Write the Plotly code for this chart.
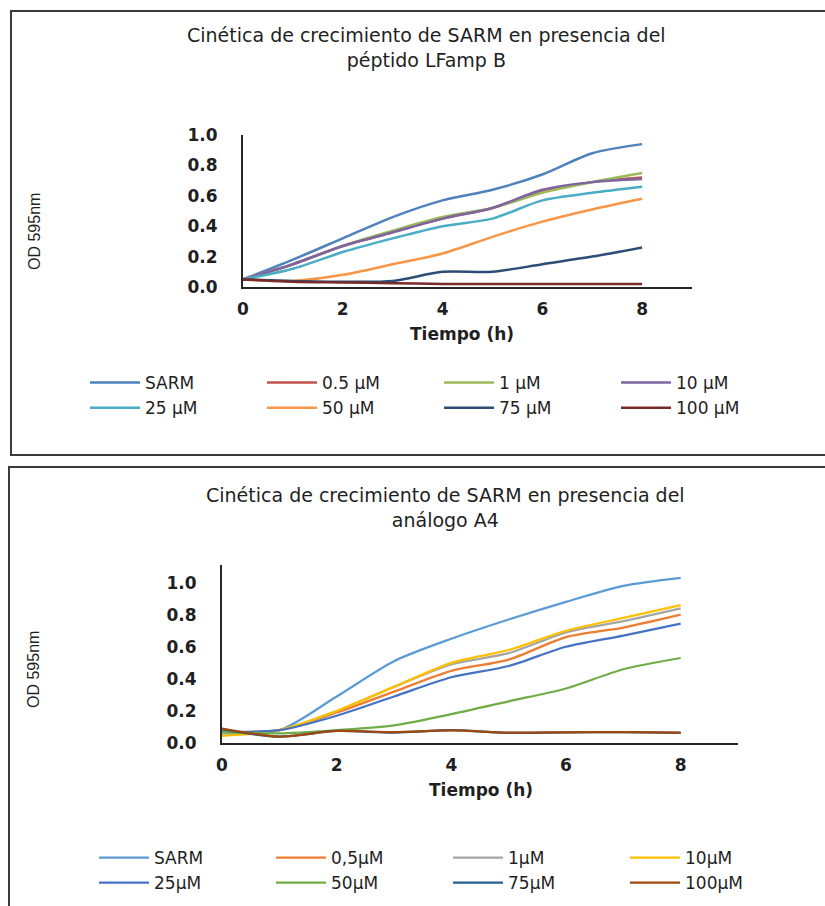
import plotly.graph_objects as go

W, H = 825, 906

hours = [0, 1, 2, 3, 4, 5, 6, 7, 8]
x_ticks = [0, 2, 4, 6, 8]
y_ticks = [0.0, 0.2, 0.4, 0.6, 0.8, 1.0]
y_ticklabels = ["0.0", "0.2", "0.4", "0.6", "0.8", "1.0"]

# Growth of SARM with peptide LFamp B (OD 595 nm)
lf_labels = ["SARM", "0.5 µM", "1 µM", "10 µM", "25 µM", "50 µM", "75 µM", "100 µM"]
lf_sarm = [0.05, 0.18, 0.32, 0.46, 0.57, 0.64, 0.74, 0.88, 0.94]
lf_05 = [0.05, 0.15, 0.27, 0.36, 0.45, 0.52, 0.63, 0.69, 0.72]
lf_1 = [0.05, 0.15, 0.27, 0.37, 0.46, 0.52, 0.62, 0.69, 0.75]
lf_10 = [0.05, 0.15, 0.27, 0.36, 0.45, 0.52, 0.64, 0.69, 0.71]
lf_25 = [0.05, 0.12, 0.23, 0.32, 0.40, 0.45, 0.57, 0.62, 0.66]
lf_50 = [0.05, 0.04, 0.08, 0.15, 0.22, 0.33, 0.43, 0.51, 0.58]
lf_75 = [0.05, 0.04, 0.035, 0.04, 0.10, 0.10, 0.15, 0.20, 0.26]
lf_100 = [0.05, 0.035, 0.03, 0.025, 0.02, 0.02, 0.02, 0.02, 0.02]
lf_colors = ["#4F81BD", "#C0504D", "#9BBB59", "#8064A2",
             "#4BACC6", "#F79646", "#2C4D75", "#772C2A"]

# Growth of SARM with analogue A4 (OD 595 nm)
a4_labels = ["SARM", "0,5µM", "1µM", "10µM", "25µM", "50µM", "75µM", "100µM"]
a4_sarm = [0.06, 0.08, 0.29, 0.51, 0.65, 0.77, 0.88, 0.98, 1.03]
a4_05 = [0.07, 0.08, 0.19, 0.32, 0.45, 0.52, 0.66, 0.72, 0.80]
a4_1 = [0.06, 0.08, 0.20, 0.35, 0.49, 0.56, 0.69, 0.76, 0.84]
a4_10 = [0.045, 0.08, 0.20, 0.35, 0.50, 0.58, 0.70, 0.78, 0.86]
a4_25 = [0.07, 0.08, 0.17, 0.29, 0.41, 0.48, 0.60, 0.67, 0.745]
a4_50 = [0.07, 0.06, 0.08, 0.11, 0.18, 0.26, 0.34, 0.46, 0.53]
a4_75 = [0.085, 0.04, 0.075, 0.065, 0.08, 0.063, 0.067, 0.068, 0.063]
a4_100 = [0.09, 0.04, 0.075, 0.068, 0.078, 0.065, 0.067, 0.068, 0.065]
a4_colors = ["#5B9BD5", "#ED7D31", "#A5A5A5", "#FFC000",
             "#4472C4", "#70AD47", "#255E91", "#9E480E"]

TEXT = "#1f1f1f"
AXIS = "#262626"


def px_x(p):
    return p / W


def px_y(p):
    return 1 - p / H


fig = go.Figure()

lf_series = [lf_sarm, lf_05, lf_1, lf_10, lf_25, lf_50, lf_75, lf_100]
for name, vals, col in zip(lf_labels, lf_series, lf_colors):
    fig.add_trace(go.Scatter(
        x=hours, y=vals, name=name, mode="lines",
        line=dict(color=col, width=2.5, shape="spline", smoothing=0.8),
        xaxis="x", yaxis="y", legend="legend"))

a4_series = [a4_sarm, a4_05, a4_1, a4_10, a4_25, a4_50, a4_75, a4_100]
for name, vals, col in zip(a4_labels, a4_series, a4_colors):
    fig.add_trace(go.Scatter(
        x=hours, y=vals, name=name, mode="lines",
        line=dict(color=col, width=2.25, shape="spline", smoothing=0.8),
        xaxis="x2", yaxis="y2", legend="legend2"))

tick_font = dict(family="DejaVu Sans", size=17, color=TEXT, weight="bold")
common_x = dict(range=[0, 9], tickvals=x_ticks, showgrid=False, zeroline=False,
                showline=True, linecolor=AXIS, linewidth=2, ticks="",
                tickfont=tick_font, ticklabelstandoff=6, fixedrange=True,
                automargin=False)
common_y = dict(tickvals=y_ticks, ticktext=y_ticklabels, showgrid=False,
                zeroline=False, showline=True, linecolor=AXIS, linewidth=2,
                ticks="", tickfont=tick_font, ticklabelstandoff=20,
                fixedrange=True, automargin=False)

legend_common = dict(orientation="h", xanchor="left", yanchor="top",
                     font=dict(family="DejaVu Sans", size=17, color=TEXT),
                     entrywidth=112, entrywidthmode="pixels", itemwidth=50,
                     bgcolor="rgba(0,0,0,0)", tracegroupgap=0,
                     traceorder="normal")

fig.update_layout(
    width=W, height=H,
    margin=dict(l=0, r=0, t=0, b=0, pad=0, autoexpand=False),
    paper_bgcolor="white", plot_bgcolor="white",
    xaxis=dict(domain=[px_x(243), px_x(692)], anchor="y", **common_x),
    yaxis=dict(domain=[px_y(287), px_y(135)], anchor="x", range=[0, 1.0],
               **common_y),
    xaxis2=dict(domain=[px_x(222), px_x(738)], anchor="y2", **common_x),
    yaxis2=dict(domain=[px_y(743), px_y(565)], anchor="x2", range=[0, 1.11],
                **common_y),
    legend=dict(x=px_x(85), y=px_y(365), **legend_common),
    legend2=dict(x=px_x(94), y=px_y(840), **legend_common),
    showlegend=True,
)

title_font = dict(family="DejaVu Sans", size=19, color=TEXT)
axis_title_font = dict(family="DejaVu Sans", size=17, color=TEXT, weight="bold")
ylab_font = dict(family="Liberation Sans", size=16, color=TEXT)

annotations = [
    dict(text="Cinética de crecimiento de SARM en presencia del<br>péptido LFamp B",
         x=px_x(426), y=px_y(47), font=title_font),
    dict(text="Cinética de crecimiento de SARM en presencia del<br>análogo A4",
         x=px_x(445), y=px_y(507), font=title_font),
    dict(text="Tiempo (h)", x=px_x(462), y=px_y(334), font=axis_title_font),
    dict(text="Tiempo (h)", x=px_x(481), y=px_y(790), font=axis_title_font),
    dict(text="OD 595nm", x=px_x(35), y=px_y(232), font=ylab_font, textangle=-90),
    dict(text="OD 595nm", x=px_x(33), y=px_y(670), font=ylab_font, textangle=-90),
]
for a in annotations:
    fig.add_annotation(xref="paper", yref="paper", showarrow=False,
                       xanchor="center", yanchor="middle", **a)

# chart frames
fig.add_shape(type="rect", xref="paper", yref="paper",
              x0=px_x(11), x1=px_x(840), y0=px_y(455), y1=px_y(11),
              line=dict(color="#3a3a3a", width=2), fillcolor="rgba(0,0,0,0)")
fig.add_shape(type="rect", xref="paper", yref="paper",
              x0=px_x(9), x1=px_x(840), y0=px_y(930), y1=px_y(467),
              line=dict(color="#3a3a3a", width=2), fillcolor="rgba(0,0,0,0)")

fig.write_html("out.html",
               post_script="document.body.style.margin='0';"
                           "document.body.style.overflow='hidden';")
